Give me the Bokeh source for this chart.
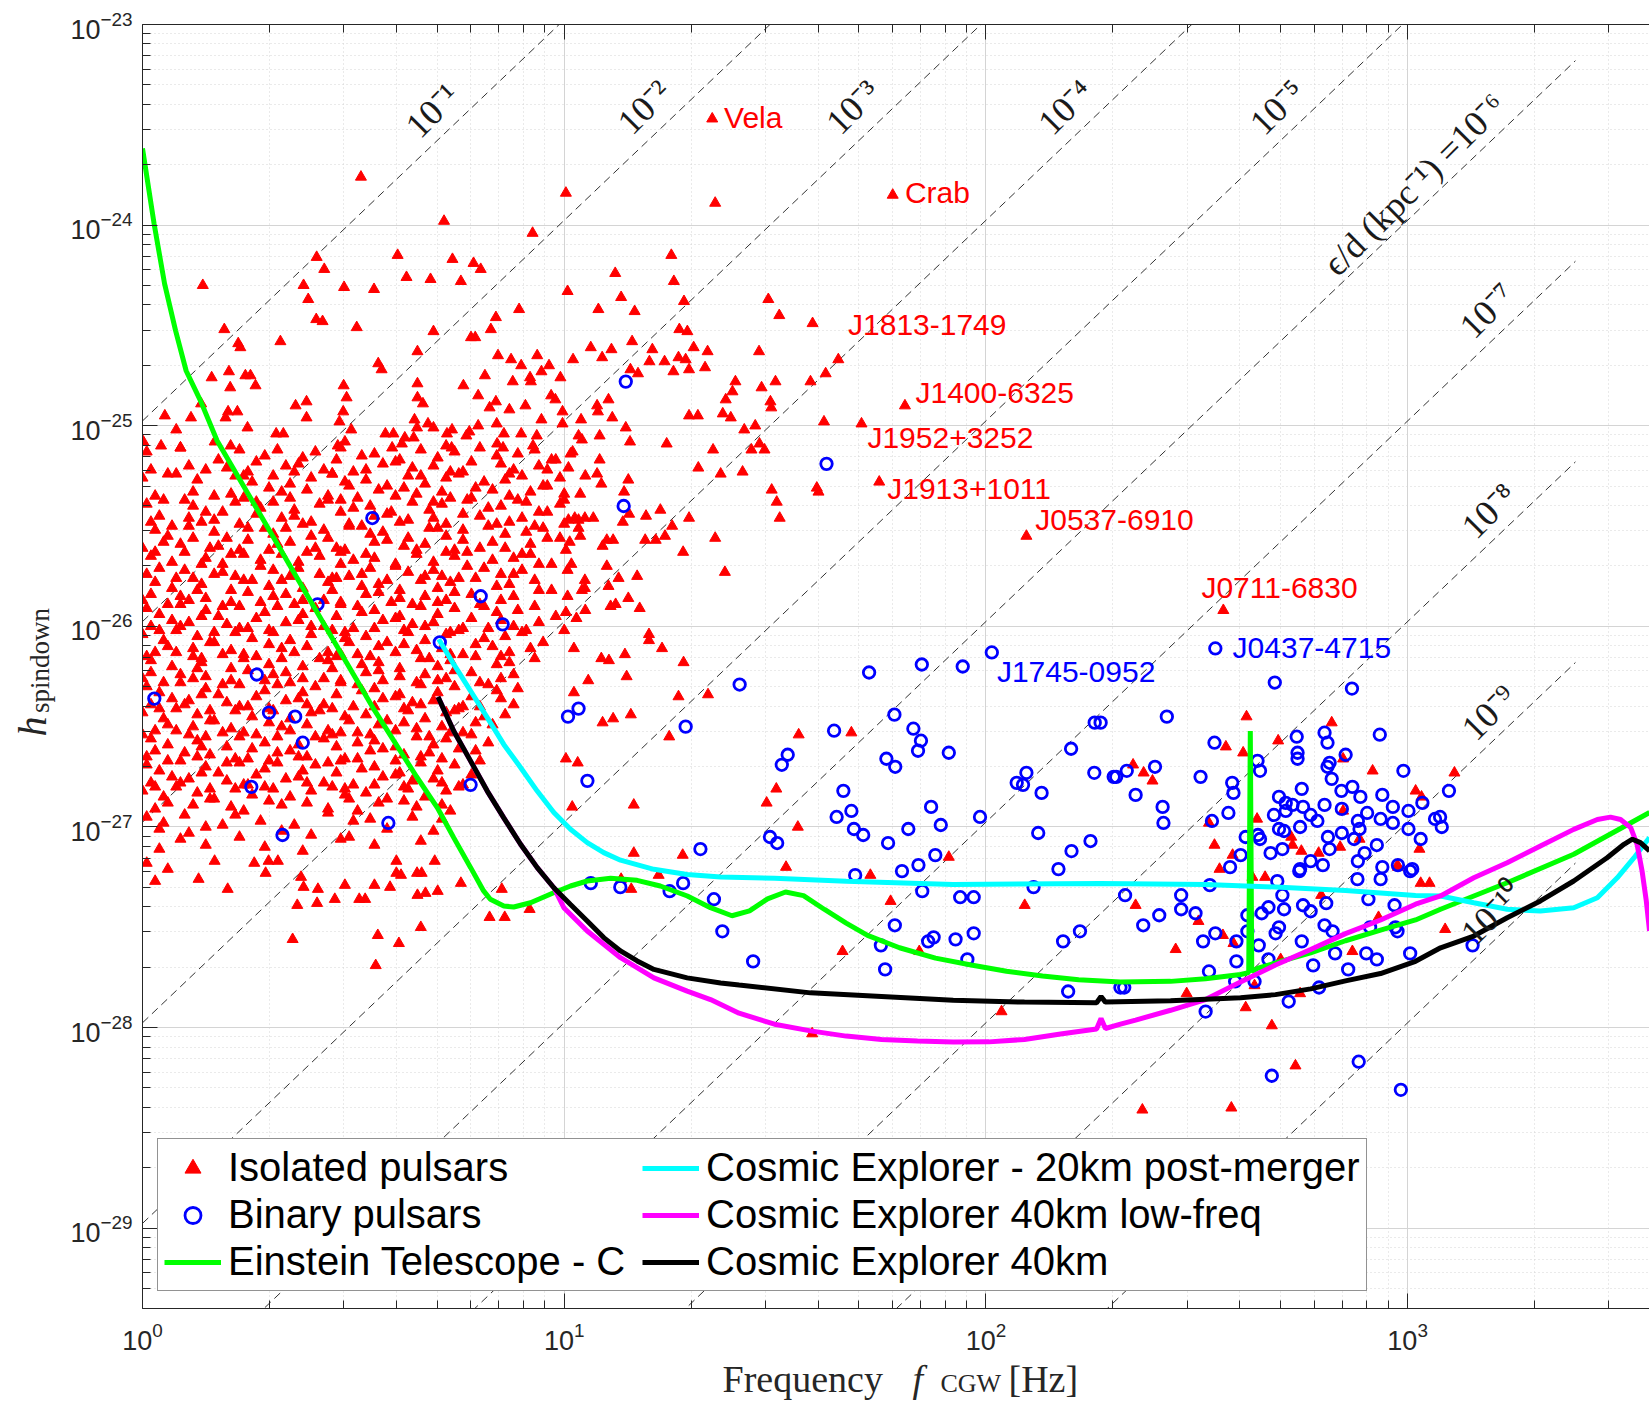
from bokeh.plotting import figure
from bokeh.layouts import row, column
from bokeh.models import (Range1d, LogAxis, FixedTicker, LogTickFormatter,
                          Legend, LegendItem)
from bokeh.core.properties import value
from bokeh.embed import file_html
from bokeh.resources import INLINE

# ---------------- data (log10 f [Hz], log10 h) ----------------
ISO_TOP = [
(0.518,-23.76),(0.715,-23.98),(0.925,-24.04),(0.143,-24.30),(0.413,-24.16),(0.431,-24.22),(0.605,-24.15),(0.626,-24.26),
(0.683,-24.27),(0.735,-24.17),(0.755,-24.28),(0.785,-24.19),(0.802,-24.22),(0.382,-24.30),(0.393,-24.37),(0.478,-24.31),
(0.549,-24.32),(0.893,-24.42),(0.838,-24.46),(0.826,-24.52),(0.412,-24.47),(0.427,-24.48),(0.508,-24.51),(0.690,-24.53),
(0.779,-24.56),(0.789,-24.56),(0.194,-24.52),(0.227,-24.59),(0.232,-24.61),(0.327,-24.58),(0.652,-24.63),(0.559,-24.69),
(0.567,-24.72),(0.843,-24.65),(0.874,-24.67),(0.898,-24.70),(0.936,-24.65),(0.964,-24.70),(0.164,-24.76),(0.205,-24.73),
(0.208,-24.81),(0.244,-24.75),(0.256,-24.75),(0.268,-24.80),(0.477,-24.80),(0.484,-24.86),(0.652,-24.79),(0.652,-24.86),
(0.665,-24.89),(0.761,-24.80),(0.796,-24.85),(0.812,-24.75),(0.878,-24.78),(0.919,-24.76),(0.921,-24.78),(0.946,-24.73),
(0.969,-24.85),(0.979,-24.87),(0.838,-24.88),(0.823,-24.91),(0.870,-24.92),(0.908,-24.90),(0.946,-24.97),(0.139,-24.89),
(0.053,-24.95),(0.115,-24.96),(0.080,-25.02),(0.203,-24.93),(0.225,-24.93),(0.197,-24.96),(0.249,-25.01),(0.363,-24.90),
(0.389,-24.88),(0.389,-24.96),(0.476,-24.93),(0.467,-24.98),(0.495,-25.02),(0.645,-24.97),(0.651,-25.01),(0.677,-24.99),
(0.690,-25.01),(0.576,-25.04),(0.595,-25.04),(0.622,-25.06),(0.643,-25.06),(0.722,-25.04),(0.734,-25.02),(0.768,-25.05),
(0.775,-25.03),(0.796,-25.00),(0.840,-24.99),(0.857,-25.04),(0.898,-25.04),(0.935,-25.05),(0.317,-25.04),(0.334,-25.04),
(0.002,-25.08),(0.044,-25.10),(0.090,-25.11),(0.171,-25.08),(0.209,-25.10),(0.720,-25.10),(0.733,-25.11),(0.841,-25.09),
(0.855,-25.11),(0.926,-25.10),(0.463,-25.10),(0.480,-25.08),(0.592,-25.11),(0.615,-25.09),
(1.004,-23.84),(1.358,-23.89),(1.351,-23.47),(1.779,-23.85),(1.254,-24.15),(1.121,-24.24),(1.008,-24.33),(1.260,-24.28),
(1.135,-24.36),(1.081,-24.42),(1.167,-24.43),(1.284,-24.38),(1.484,-24.37),(1.510,-24.45),(1.589,-24.49),(1.273,-24.52),
(1.292,-24.53),(1.161,-24.58),(1.063,-24.61),(1.112,-24.62),(1.209,-24.62),(1.307,-24.61),(1.340,-24.63),(1.462,-24.63),
(1.021,-24.67),(1.090,-24.66),(1.202,-24.68),(1.238,-24.68),(1.271,-24.66),(1.288,-24.67),(1.157,-24.72),(1.175,-24.74),
(1.259,-24.73),(1.296,-24.72),(1.334,-24.71),(1.650,-24.67),(1.620,-24.74),(1.584,-24.78),(1.501,-24.78),(1.468,-24.81),
(1.406,-24.78),(1.399,-24.83),(1.383,-24.87),(1.489,-24.88),(1.491,-24.91),(1.105,-24.87),(1.078,-24.90),(1.080,-24.93),
(1.114,-24.96),(1.040,-24.97),(0.996,-24.93),(0.996,-24.99),(1.296,-24.95),(1.317,-24.95),(1.376,-24.94),(1.395,-24.96),
(1.453,-25.00),(1.427,-25.02),(1.146,-25.01),(1.616,-24.98),(1.705,-24.99),(1.808,-24.90),(0.991,-24.76),
]

ISO_MID = [
(1.034,-25.05),(1.084,-25.05),(1.042,-25.07),(1.156,-25.08),(1.243,-25.09),(1.015,-25.14),(1.084,-25.17),(1.353,-25.12),
(1.463,-25.09),(1.475,-25.12),(1.444,-25.12),(1.318,-25.21),(1.371,-25.24),(1.423,-25.23),(1.050,-25.25),(1.078,-25.24),
(1.088,-25.29),(1.152,-25.27),(1.142,-25.33),(1.000,-25.37),(1.038,-25.34),(1.492,-25.32),(1.504,-25.38),(1.511,-25.46),
(1.599,-25.31),(1.603,-25.33),(1.747,-25.28),(1.025,-25.46),(1.049,-25.46),(1.069,-25.46),(1.154,-25.44),(1.194,-25.45),
(1.228,-25.42),(1.296,-25.46),(1.000,-25.49),(1.034,-25.47),(1.034,-25.51),(1.038,-25.55),(1.139,-25.48),(1.256,-25.50),
(1.239,-25.55),(1.217,-25.57),(1.192,-25.57),(1.101,-25.57),(1.116,-25.57),(1.091,-25.60),(1.358,-25.56),(1.282,-25.63),
(1.013,-25.58),(1.004,-25.62),(1.017,-25.69),(1.008,-25.72),(1.101,-25.70),(1.129,-25.76),(1.173,-25.75),(1.381,-25.73),
(1.049,-25.77),(1.049,-25.81),(1.105,-25.80),(1.008,-25.85),(1.042,-25.82),(1.152,-25.86),(1.110,-25.90),(1.122,-25.89),
(1.179,-25.91),(1.050,-25.92),(1.004,-25.93),(1.029,-25.96),(1.000,-26.02),(1.201,-26.04),(1.201,-26.07),(1.232,-26.11),
(1.023,-26.11),(1.088,-26.16),(1.106,-26.17),(1.144,-26.14),(1.283,-26.18),(1.148,-26.25),(1.057,-26.27),(1.023,-26.33),
(1.271,-26.35),(1.341,-26.34),(1.116,-26.46),(1.091,-26.48),(1.158,-26.44),(1.249,-26.55),(1.556,-26.54),(1.681,-26.53),
(1.004,-26.66),(1.032,-26.68),(1.503,-26.81),(1.480,-26.88),(1.165,-26.89),(1.019,-26.90),(1.554,-27.00),(1.912,-27.15),
(1.165,-27.13),(1.281,-27.14),(1.526,-27.20),(1.726,-27.24),(1.224,-27.24),(2.096,-25.55),
]

ISO_CORE = [
(0.01,-25.13),(0.09,-25.11),(0.18,-25.17),(0.23,-25.12),(0.29,-25.15),(0.32,-25.12),(0.38,-25.16),(0.41,-25.13),(0.47,-25.11),(0.52,-25.15),(0.55,-25.14),(0.61,-25.17),(0.66,-25.12),(0.70,-25.16),(0.74,-25.13),(0.80,-25.11),(0.84,-25.15),(0.89,-25.14),(0.93,-25.12),(0.98,-25.17),(1.02,-25.13),
(0.02,-25.22),(0.11,-25.20),(0.20,-25.21),(0.25,-25.23),(0.27,-25.18),(0.34,-25.20),(0.37,-25.19),(0.43,-25.22),(0.46,-25.17),(0.50,-25.23),(0.57,-25.19),(0.60,-25.18),(0.64,-25.21),(0.69,-25.20),(0.76,-25.23),(0.78,-25.18),(0.85,-25.19),(0.88,-25.22),(0.94,-25.20),(0.97,-25.17),(1.01,-25.21),
(0.00,-25.26),(0.08,-25.24),(0.13,-25.27),(0.22,-25.25),(0.26,-25.28),(0.31,-25.25),(0.35,-25.29),(0.40,-25.26),(0.45,-25.24),(0.48,-25.28),(0.53,-25.27),(0.58,-25.30),(0.63,-25.25),(0.67,-25.29),(0.72,-25.26),(0.75,-25.24),(0.81,-25.28),(0.86,-25.27),(0.90,-25.25),(0.95,-25.30),(0.99,-25.26),
(0.03,-25.35),(0.12,-25.33),(0.21,-25.34),(0.24,-25.36),(0.30,-25.31),(0.33,-25.33),(0.39,-25.32),(0.44,-25.35),(0.49,-25.30),(0.51,-25.36),(0.56,-25.32),(0.62,-25.31),(0.65,-25.34),(0.71,-25.33),(0.73,-25.36),(0.79,-25.31),(0.83,-25.32),(0.87,-25.35),(0.92,-25.33),(0.96,-25.30),(1.00,-25.34),
(0.01,-25.39),(0.10,-25.37),(0.12,-25.40),(0.19,-25.43),(0.22,-25.38),(0.28,-25.41),(0.31,-25.38),(0.36,-25.42),(0.42,-25.39),(0.44,-25.37),(0.50,-25.41),(0.54,-25.40),(0.59,-25.43),(0.64,-25.38),(0.68,-25.42),(0.71,-25.39),(0.77,-25.37),(0.82,-25.41),(0.85,-25.40),(0.91,-25.38),(0.94,-25.43),(0.99,-25.39),
(0.02,-25.48),(0.04,-25.45),(0.11,-25.46),(0.15,-25.43),(0.17,-25.47),(0.23,-25.49),(0.27,-25.44),(0.33,-25.46),(0.36,-25.45),(0.40,-25.48),(0.47,-25.43),(0.49,-25.49),(0.55,-25.45),(0.58,-25.44),(0.63,-25.47),(0.69,-25.46),(0.72,-25.49),(0.76,-25.44),(0.80,-25.45),(0.87,-25.48),(0.90,-25.46),(0.96,-25.43),(1.01,-25.47),
(0.03,-25.52),(0.06,-25.55),(0.11,-25.50),(0.17,-25.53),(0.20,-25.56),(0.25,-25.51),(0.31,-25.54),(0.34,-25.51),(0.40,-25.55),(0.43,-25.52),(0.49,-25.50),(0.54,-25.54),(0.57,-25.53),(0.63,-25.56),(0.68,-25.51),(0.72,-25.55),(0.76,-25.52),(0.82,-25.50),(0.86,-25.54),(0.91,-25.53),(0.95,-25.51),(0.99,-25.56),
(0.00,-25.61),(0.05,-25.58),(0.09,-25.59),(0.12,-25.56),(0.18,-25.60),(0.23,-25.62),(0.25,-25.57),(0.32,-25.59),(0.35,-25.58),(0.41,-25.61),(0.44,-25.56),(0.48,-25.62),(0.55,-25.58),(0.58,-25.57),(0.62,-25.60),(0.67,-25.59),(0.74,-25.62),(0.76,-25.57),(0.83,-25.58),(0.86,-25.61),(0.92,-25.59),(0.96,-25.56),
(0.02,-25.65),(0.07,-25.68),(0.10,-25.63),(0.15,-25.66),(0.19,-25.69),(0.24,-25.64),(0.28,-25.67),(0.33,-25.64),(0.37,-25.68),(0.42,-25.65),(0.47,-25.63),(0.50,-25.67),(0.55,-25.66),(0.60,-25.69),(0.65,-25.64),(0.69,-25.68),(0.74,-25.65),(0.77,-25.63),(0.83,-25.67),(0.88,-25.66),(0.92,-25.64),(0.97,-25.69),
(0.01,-25.74),(0.04,-25.71),(0.10,-25.72),(0.14,-25.69),(0.19,-25.73),(0.22,-25.75),(0.28,-25.70),(0.31,-25.72),(0.37,-25.71),(0.42,-25.74),(0.47,-25.69),(0.49,-25.75),(0.54,-25.71),(0.60,-25.70),(0.63,-25.73),(0.69,-25.72),(0.71,-25.75),(0.77,-25.70),(0.81,-25.71),(0.85,-25.74),(0.90,-25.72),(0.94,-25.69),
(0.03,-25.78),(0.07,-25.81),(0.12,-25.76),(0.14,-25.79),(0.21,-25.82),(0.24,-25.77),(0.30,-25.80),(0.33,-25.77),(0.38,-25.81),(0.44,-25.78),(0.46,-25.76),(0.52,-25.80),(0.56,-25.79),(0.61,-25.82),(0.66,-25.77),(0.70,-25.81),(0.73,-25.78),(0.79,-25.76),(0.84,-25.80),(0.87,-25.79),(0.93,-25.77),(0.97,-25.82),
(0.00,-25.87),(0.02,-25.84),(0.09,-25.85),(0.13,-25.82),(0.15,-25.86),(0.21,-25.88),(0.25,-25.83),(0.31,-25.85),(0.34,-25.84),(0.38,-25.87),(0.45,-25.82),(0.47,-25.88),(0.53,-25.84),(0.56,-25.83),(0.61,-25.86),(0.67,-25.85),(0.70,-25.88),(0.74,-25.83),(0.78,-25.84),(0.85,-25.87),(0.88,-25.85),(0.94,-25.82),
(0.01,-25.91),(0.04,-25.94),(0.09,-25.89),(0.15,-25.92),(0.18,-25.95),(0.23,-25.90),(0.29,-25.93),(0.32,-25.90),(0.38,-25.94),(0.41,-25.91),(0.47,-25.89),(0.52,-25.93),(0.55,-25.92),(0.61,-25.95),(0.66,-25.90),(0.70,-25.94),(0.74,-25.91),(0.80,-25.89),(0.84,-25.93),(0.89,-25.92),(0.93,-25.90),(0.98,-25.95),
(0.02,-26.00),(0.07,-25.97),(0.11,-25.98),(0.14,-25.95),(0.20,-25.99),(0.25,-26.01),(0.27,-25.96),(0.34,-25.98),(0.37,-25.97),(0.43,-26.00),(0.46,-25.95),(0.50,-26.01),(0.57,-25.97),(0.60,-25.96),(0.64,-25.99),(0.69,-25.98),(0.76,-26.01),(0.78,-25.96),(0.85,-25.97),(0.88,-26.00),(0.94,-25.98),
(0.00,-26.04),(0.05,-26.07),(0.08,-26.02),(0.13,-26.05),(0.17,-26.08),(0.22,-26.03),(0.26,-26.06),(0.31,-26.03),(0.35,-26.07),(0.40,-26.04),(0.45,-26.02),(0.48,-26.06),(0.53,-26.05),(0.58,-26.08),(0.63,-26.03),(0.67,-26.07),(0.72,-26.04),(0.75,-26.02),(0.81,-26.06),(0.86,-26.05),(0.90,-26.03),(0.95,-26.08),
(0.03,-26.13),(0.06,-26.10),(0.12,-26.11),(0.16,-26.08),(0.21,-26.12),(0.24,-26.14),(0.30,-26.09),(0.33,-26.11),(0.39,-26.10),(0.44,-26.13),(0.49,-26.08),(0.51,-26.14),(0.56,-26.10),(0.62,-26.09),(0.65,-26.12),(0.71,-26.11),(0.73,-26.14),(0.79,-26.09),(0.83,-26.10),(0.87,-26.13),(0.92,-26.11),
(0.02,-26.17),(0.07,-26.20),(0.12,-26.15),(0.14,-26.18),(0.21,-26.21),(0.24,-26.16),(0.30,-26.19),(0.33,-26.16),(0.38,-26.20),(0.44,-26.17),(0.46,-26.15),(0.52,-26.19),(0.56,-26.18),(0.61,-26.21),(0.66,-26.16),(0.70,-26.20),(0.73,-26.17),(0.79,-26.15),(0.84,-26.19),(0.87,-26.18),(0.93,-26.16),
(0.00,-26.26),(0.02,-26.23),(0.09,-26.24),(0.13,-26.21),(0.15,-26.25),(0.21,-26.27),(0.25,-26.22),(0.31,-26.24),(0.34,-26.23),(0.38,-26.26),(0.45,-26.21),(0.47,-26.27),(0.53,-26.23),(0.56,-26.22),(0.61,-26.25),(0.67,-26.24),(0.70,-26.27),(0.74,-26.22),(0.78,-26.23),(0.85,-26.26),(0.88,-26.24),
(0.01,-26.30),(0.04,-26.33),(0.09,-26.28),(0.15,-26.31),(0.18,-26.34),(0.23,-26.29),(0.29,-26.32),(0.32,-26.29),(0.38,-26.33),(0.41,-26.30),(0.47,-26.28),(0.52,-26.32),(0.55,-26.31),(0.61,-26.34),(0.66,-26.29),(0.70,-26.33),(0.74,-26.30),(0.80,-26.28),(0.84,-26.32),(0.89,-26.31),
(0.02,-26.39),(0.07,-26.36),(0.11,-26.37),(0.14,-26.34),(0.20,-26.38),(0.25,-26.40),(0.27,-26.35),(0.34,-26.37),(0.37,-26.36),(0.43,-26.39),(0.46,-26.34),(0.50,-26.40),(0.57,-26.36),(0.60,-26.35),(0.64,-26.38),(0.69,-26.37),(0.76,-26.40),(0.78,-26.35),(0.85,-26.36),(0.88,-26.39),
(0.00,-26.43),(0.05,-26.46),(0.08,-26.41),(0.13,-26.44),(0.17,-26.47),(0.22,-26.42),(0.26,-26.45),(0.31,-26.42),(0.35,-26.46),(0.40,-26.43),(0.45,-26.41),(0.48,-26.45),(0.53,-26.44),(0.58,-26.47),(0.63,-26.42),(0.67,-26.46),(0.72,-26.43),(0.75,-26.41),(0.81,-26.45),(0.86,-26.44),
(0.03,-26.52),(0.06,-26.49),(0.12,-26.50),(0.16,-26.47),(0.21,-26.51),(0.24,-26.53),(0.30,-26.48),(0.33,-26.50),(0.39,-26.49),(0.44,-26.52),(0.49,-26.47),(0.51,-26.53),(0.56,-26.49),(0.62,-26.48),(0.65,-26.51),(0.71,-26.50),(0.73,-26.53),(0.79,-26.48),(0.83,-26.49),
(0.02,-26.56),(0.06,-26.59),(0.11,-26.54),(0.13,-26.57),(0.20,-26.60),(0.23,-26.55),(0.29,-26.58),(0.32,-26.55),(0.37,-26.59),(0.43,-26.56),(0.45,-26.54),(0.51,-26.58),(0.55,-26.57),(0.60,-26.60),(0.65,-26.55),(0.69,-26.59),(0.72,-26.56),(0.78,-26.54),(0.82,-26.58),
(0.01,-26.65),(0.03,-26.62),(0.10,-26.63),(0.14,-26.60),(0.16,-26.64),(0.22,-26.66),(0.26,-26.61),(0.32,-26.63),(0.35,-26.62),(0.39,-26.65),(0.46,-26.60),(0.48,-26.66),(0.54,-26.62),(0.57,-26.61),(0.62,-26.64),(0.68,-26.63),(0.71,-26.66),(0.75,-26.61),(0.79,-26.62),
(0.01,-26.69),(0.04,-26.72),(0.09,-26.67),(0.15,-26.70),(0.18,-26.73),(0.23,-26.68),(0.29,-26.71),(0.32,-26.68),(0.38,-26.72),(0.41,-26.69),(0.47,-26.67),(0.52,-26.71),(0.55,-26.70),(0.61,-26.73),(0.66,-26.68),(0.70,-26.72),(0.74,-26.69),(0.80,-26.67),
(0.02,-26.78),(0.07,-26.75),(0.11,-26.76),(0.14,-26.73),(0.20,-26.77),(0.25,-26.79),(0.27,-26.74),(0.34,-26.76),(0.37,-26.75),(0.43,-26.78),(0.46,-26.73),(0.50,-26.79),(0.57,-26.75),(0.60,-26.74),(0.64,-26.77),(0.69,-26.76),(0.76,-26.79),(0.78,-26.74),
(0.00,-26.82),(0.05,-26.85),(0.08,-26.80),(0.13,-26.83),(0.17,-26.86),(0.22,-26.81),(0.26,-26.84),(0.31,-26.81),(0.35,-26.85),(0.40,-26.82),(0.45,-26.80),(0.48,-26.84),(0.53,-26.83),(0.58,-26.86),(0.63,-26.81),(0.67,-26.85),(0.72,-26.82),(0.75,-26.80),
(0.03,-26.91),(0.06,-26.88),(0.12,-26.89),(0.16,-26.86),(0.21,-26.90),(0.24,-26.92),(0.30,-26.87),(0.33,-26.89),(0.39,-26.88),(0.44,-26.91),(0.49,-26.86),(0.51,-26.92),(0.56,-26.88),(0.62,-26.87),(0.65,-26.90),(0.71,-26.89),(0.73,-26.92),
(0.01,-26.95),(0.10,-26.94),(0.19,-26.99),(0.28,-26.97),(0.36,-26.99),(0.44,-26.93),(0.54,-26.96),(0.64,-26.95),(0.71,-26.96),(0.05,-26.98),(0.22,-26.94),(0.50,-26.97),
(0.04,-27.01),(0.15,-27.00),(0.23,-27.05),(0.33,-27.02),(0.40,-27.04),(0.49,-27.05),(0.58,-27.01),(0.69,-27.02),(0.11,-27.03),
(0.04,-27.11),(0.15,-27.09),(0.29,-27.10),(0.38,-27.12),(0.47,-27.06),(0.55,-27.09),(0.66,-27.07),(0.09,-27.06),
(0.01,-27.18),(0.03,-27.27),(0.06,-27.21),
]

ISO_FILL = [
(0.06,-25.24),(0.15,-25.22),(0.24,-25.25),(0.36,-25.23),(0.45,-25.24),(0.53,-25.22),(0.66,-25.25),(0.73,-25.23),(0.87,-25.24),(0.96,-25.22),
(0.05,-25.37),(0.17,-25.35),(0.27,-25.38),(0.35,-25.36),(0.47,-25.37),(0.60,-25.35),(0.69,-25.38),(0.78,-25.36),(0.89,-25.37),
(0.07,-25.50),(0.14,-25.48),(0.29,-25.51),(0.38,-25.49),(0.52,-25.50),(0.61,-25.48),(0.70,-25.51),(0.84,-25.49),(0.93,-25.50),
(0.03,-25.63),(0.16,-25.61),(0.21,-25.64),(0.30,-25.62),(0.39,-25.63),(0.46,-25.61),(0.53,-25.64),(0.65,-25.62),(0.72,-25.63),(0.80,-25.61),(0.90,-25.64),
(0.08,-25.76),(0.17,-25.74),(0.26,-25.77),(0.35,-25.75),(0.45,-25.76),(0.52,-25.74),(0.58,-25.77),(0.67,-25.75),(0.75,-25.76),(0.88,-25.74),
(0.06,-25.89),(0.11,-25.87),(0.19,-25.90),(0.28,-25.88),(0.36,-25.89),(0.43,-25.87),(0.51,-25.90),(0.59,-25.88),(0.64,-25.89),(0.72,-25.87),(0.81,-25.90),
(0.04,-26.02),(0.09,-26.00),(0.17,-26.03),(0.23,-26.01),(0.30,-26.02),(0.40,-26.00),(0.48,-26.03),(0.55,-26.01),(0.62,-26.02),(0.67,-26.00),(0.73,-26.03),(0.82,-26.01),(0.91,-26.02),
(0.01,-26.15),(0.08,-26.13),(0.14,-26.16),(0.19,-26.14),(0.27,-26.15),(0.36,-26.13),(0.42,-26.16),(0.47,-26.14),(0.54,-26.15),(0.60,-26.13),(0.68,-26.16),(0.76,-26.14),(0.85,-26.15),
(0.05,-26.28),(0.12,-26.26),(0.19,-26.29),(0.29,-26.27),(0.35,-26.28),(0.43,-26.26),(0.51,-26.29),(0.57,-26.27),(0.65,-26.28),(0.72,-26.26),(0.82,-26.29),
(0.04,-26.41),(0.10,-26.39),(0.16,-26.42),(0.23,-26.40),(0.30,-26.41),(0.39,-26.39),(0.42,-26.42),(0.55,-26.40),(0.62,-26.41),(0.66,-26.39),(0.74,-26.42),(0.80,-26.40),
(0.00,-26.54),(0.08,-26.52),(0.15,-26.55),(0.19,-26.53),(0.27,-26.54),(0.35,-26.52),(0.41,-26.55),(0.47,-26.53),(0.54,-26.54),(0.60,-26.52),(0.68,-26.55),(0.76,-26.53),
(0.06,-26.67),(0.13,-26.65),(0.20,-26.68),(0.25,-26.66),(0.30,-26.67),(0.37,-26.65),(0.44,-26.68),(0.51,-26.66),(0.60,-26.67),(0.66,-26.65),
(0.03,-26.80),(0.09,-26.78),(0.16,-26.81),(0.24,-26.79),(0.29,-26.80),(0.39,-26.78),(0.48,-26.81),(0.55,-26.79),(0.62,-26.80),(0.71,-26.78),
]

ISO_LOW = [
(0.133,-27.26),(0.202,-27.31),(0.292,-27.23),(0.376,-27.25),(0.382,-27.30),(0.416,-27.31),(0.480,-27.29),(0.550,-27.29),
(0.587,-27.30),(0.602,-27.23),(0.613,-27.24),(0.651,-27.23),(0.662,-27.23),(0.652,-27.34),(0.671,-27.33),(0.700,-27.32),
(0.755,-27.28),(0.367,-27.39),(0.414,-27.38),(0.456,-27.36),(0.514,-27.36),(0.528,-27.36),(0.660,-27.50),(0.558,-27.54),
(0.608,-27.58),(0.356,-27.56),(0.553,-27.69),(0.823,-27.45),(0.859,-27.45),(0.852,-27.31),(0.918,-27.41),(0.171,-27.17),
(0.265,-27.18),(0.299,-27.17),(0.321,-27.17),(0.602,-27.17),(0.693,-27.17),
(1.159,-27.31),(1.774,-27.37),(2.092,-27.39),(1.660,-27.62),(1.842,-27.62),(1.588,-28.03),(2.037,-27.92),(1.135,-27.26),
(2.554,-27.21),(2.662,-27.25),(2.632,-27.25),(2.355,-27.39),(2.504,-27.47),(2.562,-27.54),(2.587,-27.58),(2.450,-27.61),
(2.699,-27.66),(2.637,-27.79),(2.476,-27.83),(2.745,-27.83),(2.616,-27.90),(2.678,-27.99),(2.734,-28.19),(2.371,-28.41),
(2.582,-28.40),(2.869,-27.62),(2.931,-27.45),(3.089,-27.51),(3.031,-27.28),(3.052,-27.28),(2.795,-27.34),(2.977,-27.20),
(2.563,-25.92),(2.618,-26.45),(2.820,-26.48),(2.693,-26.57),(2.569,-26.60),(2.610,-26.63),(2.349,-26.69),(2.374,-26.73),
(2.395,-26.77),(2.847,-26.66),(2.917,-26.72),(3.111,-26.73),(3.019,-26.82),(3.033,-26.85),(2.643,-26.96),(2.847,-26.92),
(2.529,-26.98),(2.724,-27.05),(2.727,-27.09),(2.748,-27.12),(2.789,-27.13),(2.542,-27.09),(2.585,-27.14),(2.886,-27.06),
(3.028,-27.11),(2.976,-27.19),(2.840,-27.10),
]

BINARY = [
(0.028,-26.36),(0.545,-25.46),(0.415,-25.89),(0.271,-26.24),(0.300,-26.43),(0.362,-26.45),(0.380,-26.58),(0.258,-26.80),
(0.332,-27.04),(0.583,-26.98),(0.802,-25.85),(0.854,-25.99),(0.705,-26.08),(0.778,-26.79),(1.009,-26.45),(1.034,-26.41),
(1.055,-26.77),(1.063,-27.28),(1.146,-24.78),
(1.622,-25.19),(1.141,-25.40),(2.014,-26.13),(1.945,-26.20),(1.848,-26.19),(1.723,-26.23),(1.416,-26.29),(1.288,-26.50),
(1.783,-26.44),(1.640,-26.52),(1.828,-26.51),(1.846,-26.57),(1.839,-26.62),(1.912,-26.63),(1.764,-26.66),(1.785,-26.70),
(1.530,-26.64),(1.516,-26.69),(2.258,-26.48),(2.202,-26.61),(2.257,-26.73),(2.303,-26.75),(2.096,-26.73),(2.073,-26.78),
(2.088,-26.79),(2.132,-26.83),(1.662,-26.82),(1.870,-26.90),(1.893,-26.99),(1.986,-26.95),(1.681,-26.92),(1.646,-26.95),
(1.687,-27.01),(1.709,-27.04),(1.816,-27.01),(1.768,-27.08),(1.488,-27.05),(1.505,-27.08),(2.124,-27.03),(2.248,-27.07),
(2.203,-27.12),(2.172,-27.21),(1.880,-27.14),(1.840,-27.19),(1.801,-27.22),(1.690,-27.24),(1.323,-27.11),
(1.133,-27.30),(1.250,-27.32),(1.282,-27.28),(1.355,-27.36),(1.375,-27.52),(1.448,-27.67),(1.849,-27.32),(1.784,-27.49),
(1.751,-27.59),(1.761,-27.71),(1.863,-27.57),(1.876,-27.55),(1.928,-27.56),(1.971,-27.53),(1.956,-27.66),(1.939,-27.35),
(1.971,-27.35),(2.113,-27.30),(2.183,-27.57),(2.223,-27.52),(2.195,-27.82),(2.319,-27.80),
(2.330,-27.34),(2.373,-27.49),(2.411,-27.44),(2.463,-27.34),(2.463,-27.41),(2.497,-27.43),(2.531,-27.29),(2.515,-27.57),
(2.544,-27.53),(2.529,-27.72),(2.328,-27.80),(2.521,-27.92),(2.594,-27.57),(2.594,-27.67),(2.591,-27.77),(2.620,-27.44),
(2.620,-27.52),(2.647,-27.59),(2.654,-27.43),(2.670,-27.40),(2.670,-27.66),(2.637,-27.77),(2.687,-27.53),(2.695,-27.50),
(2.691,-27.27),(2.703,-27.34),(2.707,-27.41),(2.749,-27.57),(2.752,-27.39),(2.770,-27.42),(2.776,-27.69),(2.718,-27.87),
(2.790,-27.80),(2.743,-27.22),(2.803,-27.49),(2.807,-27.38),(2.822,-27.52),(2.828,-27.63),(2.859,-27.71),(2.902,-27.63),
(2.927,-27.66),(2.907,-27.36),(2.911,-27.50),(2.881,-27.26),(2.936,-27.26),(2.969,-27.39),(2.971,-27.50),(2.976,-27.52),
(3.006,-27.63),(3.006,-27.22),(3.154,-27.59),(2.678,-28.24),(2.884,-28.17),(2.984,-28.31),
(2.544,-26.11),(2.685,-26.28),(2.868,-26.31),(2.429,-26.45),(2.272,-26.48),(2.542,-26.58),(2.737,-26.55),(2.803,-26.53),
(2.810,-26.58),(2.934,-26.54),(2.853,-26.64),(2.739,-26.63),(2.739,-26.66),(2.644,-26.67),(2.650,-26.72),(2.815,-26.68),
(2.810,-26.70),(2.820,-26.76),(2.990,-26.72),(2.509,-26.75),(2.401,-26.70),(2.334,-26.72),(2.309,-26.75),(2.584,-26.78),
(2.587,-26.83),(2.355,-26.84),(2.419,-26.90),(2.421,-26.98),(2.575,-26.93),(2.536,-26.97),(2.749,-26.81),(2.843,-26.82),
(2.869,-26.80),(2.888,-26.85),(2.940,-26.84),(3.098,-26.82),(2.727,-26.89),(2.752,-26.90),(2.770,-26.94),(2.803,-26.89),
(2.683,-26.94),(2.711,-26.92),(2.745,-27.00),(2.695,-27.01),(2.786,-26.97),(2.844,-26.91),(2.882,-26.97),(2.904,-26.93),
(2.936,-26.96),(2.965,-26.90),(3.002,-26.92),(3.035,-26.88),(3.065,-26.96),(3.077,-26.95),(3.081,-27.00),(2.965,-26.98),
(3.002,-27.01),(3.031,-27.06),(2.886,-27.01),(2.873,-27.06),(2.898,-27.13),(2.927,-27.09),(2.844,-27.03),(2.811,-27.05),
(2.815,-27.11),(2.770,-27.17),(2.799,-27.19),(2.745,-27.21),(2.645,-27.04),(2.650,-27.06),(2.675,-27.13),(2.703,-27.11),
(2.616,-27.05),(2.604,-27.14),(2.579,-27.20),(2.940,-27.20),(2.977,-27.19),(3.011,-27.21),(2.882,-27.17),(2.695,-26.85),
(2.711,-26.88),(2.707,-27.02),
]

# sensitivity curves (f in Hz, h)
ET_F = [1.0,1.065,1.128,1.198,1.269,1.373,1.503,1.778,2.239,2.818,3.548,4.467,5.0,5.47,6.0,6.44,6.68,7.19,7.59,8.32,
        9.44,10.35,11.34,12.88,14.89,16.9,19.59,22.23,24.99,27.51,30.35,33.48,36.94,41.43,46.63,52.4,62.39,75.93,92.25,111.9,
        136.2,165.9,208.5,274.1,331.7,401.6,420.0,423.6,427.0,441.9,505.0,588.8,712.3,862.6,1044,1197,1722,2477,3747]
ET_H = [2.41e-24,1.02e-24,5.11e-25,2.98e-25,1.88e-25,1.33e-25,8.41e-26,4.6e-26,2.0e-26,8.73e-27,3.82e-27,1.78e-27,1.25e-27,
        8.85e-28,6.27e-28,4.80e-28,4.36e-28,4.04e-28,3.99e-28,4.19e-28,4.70e-28,5.08e-28,5.38e-28,5.55e-28,5.42e-28,5.08e-28,
        4.53e-28,3.96e-28,3.61e-28,3.82e-28,4.38e-28,4.74e-28,4.55e-28,3.88e-28,3.32e-28,2.88e-28,2.50e-28,2.22e-28,2.05e-28,
        1.91e-28,1.81e-28,1.73e-28,1.69e-28,1.70e-28,1.75e-28,1.84e-28,1.88e-28,3.01e-27,1.90e-28,1.98e-28,2.15e-28,2.36e-28,
        2.71e-28,3.06e-28,3.44e-28,3.89e-28,5.27e-28,7.31e-28,1.18e-27]
CE20_F = [5.04,5.47,6.0,6.57,7.19,7.88,8.63,9.45,10.35,11.34,12.41,13.6,16.32,19.57,23.49,31.53,46.63,83.65,187,331.7,
          486,712.3,1044,1197,1435,1722,2065,2477,2818,3141,3444,3639,3747]
CE20_H = [8.63e-27,6.48e-27,4.76e-27,3.51e-27,2.58e-27,1.98e-27,1.51e-27,1.18e-27,9.74e-28,8.36e-28,7.45e-28,6.83e-28,
          6.15e-28,5.80e-28,5.63e-28,5.55e-28,5.36e-28,5.17e-28,5.23e-28,5.17e-28,5.02e-28,4.83e-28,4.55e-28,4.53e-28,
          4.19e-28,3.89e-28,3.81e-28,3.96e-28,4.44e-28,5.58e-28,7.03e-28,8.20e-28,8.85e-28]
CE40LF_F = [5.02,5.47,6.0,6.57,7.19,7.88,8.63,9.45,9.98,11.34,13.6,16.32,19.57,22.23,25.98,31.53,38.38,46.63,56.56,68.84,
            83.65,101.7,123.4,150.3,183,187.5,192,208.5,226.4,274.1,331.7,401.6,486,588.8,712.3,862.6,1044,1197,1435,1722,
            2065,2477,2818,3027,3199,3381,3500,3597,3681,3747]
CE40LF_H = [4.45e-27,3.01e-27,2.13e-27,1.51e-27,1.11e-27,8.2e-28,6.27e-28,4.98e-28,3.96e-28,3.03e-28,2.23e-28,1.77e-28,
            1.52e-28,1.38e-28,1.18e-28,1.04e-28,9.63e-29,9.07e-29,8.73e-29,8.57e-29,8.47e-29,8.49e-29,8.73e-29,9.29e-29,
            9.84e-29,1.11e-28,9.9e-29,1.04e-28,1.09e-28,1.22e-28,1.38e-28,1.69e-28,2.05e-28,2.45e-28,2.94e-28,3.44e-28,
            4.12e-28,4.53e-28,5.58e-28,6.64e-28,8.04e-28,9.73e-28,1.09e-27,1.12e-27,1.09e-27,9.93e-28,8.20e-28,6.04e-28,
            4.28e-28,3.03e-28]
CE40_F = [5.02,5.47,6.0,6.57,7.19,7.88,8.63,9.45,10.35,11.34,12.41,13.6,14.9,16.32,19.57,23.49,25.98,38.38,56.56,83.65,
          123.4,183,187.5,192,274.1,401.6,486,588.8,712.3,862.6,1044,1197,1435,1722,2065,2477,2972,3258,3412,3565,3747]
CE40_H = [4.45e-27,3.01e-27,2.13e-27,1.51e-27,1.11e-27,8.2e-28,6.27e-28,4.98e-28,4.11e-28,3.40e-28,2.81e-28,2.41e-28,
          2.15e-28,1.95e-28,1.77e-28,1.67e-28,1.63e-28,1.49e-28,1.43e-28,1.37e-28,1.34e-28,1.33e-28,1.43e-28,1.34e-28,
          1.36e-28,1.41e-28,1.46e-28,1.56e-28,1.71e-28,1.86e-28,2.14e-28,2.50e-28,2.86e-28,3.53e-28,4.28e-28,5.38e-28,
          7.03e-28,8.20e-28,8.69e-28,8.36e-28,7.59e-28]

# named pulsars (label anchor: log10 f, log10 h)
NAMES = ["Vela", "Crab", "J1813-1749", "J1400-6325", "J1952+3252", "J1913+1011", "J0537-6910",
         "J0711-6830", "J0437-4715", "J1745-0952"]
NAME_LOGF = [1.379, 1.808, 1.673, 1.833, 1.719, 1.766, 2.117, 2.511, 2.585, 2.026]
NAME_LOGH = [-23.464, -23.836, -24.493, -24.834, -25.058, -25.311, -25.468, -25.805, -26.104, -26.224]
NAME_COLORS = ["#ff0000"] * 8 + ["#0000ff"] * 2

# constant-ellipticity/distance lines h = K * (eps/d) * f^2, labels
K_SPIN = 1.0569e-24
EPS_EXP = [1, 2, 3, 4, 5, 6, 7, 8, 9, 10]
EPS_F_SPAN = [1.0, 2500.0]
EPS_LABELS = ["10⁻¹", "10⁻²", "10⁻³", "10⁻⁴", "10⁻⁵", "ϵ/d (kpc⁻¹) =10⁻⁶", "10⁻⁷", "10⁻⁸", "10⁻⁹", "10⁻¹⁰"]
EPS_LABEL_F = [4.875, 15.5, 48.4, 154.5, 491, 1038, 1545, 1560, 1560, 1589]
EPS_LABEL_H = [3.72e-24, 3.87e-24, 3.87e-24, 3.87e-24, 3.87e-24, 1.59e-24, 3.75e-25, 3.77e-26, 3.72e-27, 3.72e-28]

X_MAJOR = [1, 10, 100, 1000]
Y_MAJOR = [1e-29, 1e-28, 1e-27, 1e-26, 1e-25, 1e-24, 1e-23]

# axis titles: pieces (text, x px, baseline px, size, style)
XTITLE = [("Frequency", 722, 22, "38px", "normal"), ("f", 912, 22, "38px", "italic"),
          ("CGW", 940, 27, "26px", "normal"), ("[Hz]", 1008, 22, "38px", "normal")]
YTITLE = [("h", 32, 752, "40px", "italic"), ("spindown", 39, 727, "27px", "normal")]


def unzip(pairs):
    return [10 ** a for a, _ in pairs], [10 ** b for _, b in pairs]


iso_f, iso_h = unzip(ISO_TOP + ISO_MID + ISO_CORE + ISO_FILL + ISO_LOW)
bin_f, bin_h = unzip(BINARY)

AX = "#262626"
SERIF = "Liberation Serif"
MAIN_W, MAIN_H, YLAB_W, XLAB_H = 1589, 1356, 60, 47

# ---------------- main figure ----------------
p = figure(width=MAIN_W, height=MAIN_H, x_axis_type="log", y_axis_type="log",
           x_range=Range1d(1.0, 3746.0), y_range=Range1d(3.98e-30, 1e-23),
           output_backend="svg", toolbar_location=None,
           min_border_left=82, min_border_right=0, min_border_top=24, min_border_bottom=48,
           background_fill_color="white", border_fill_color="white")
p.outline_line_color = None
bottom_axis = p.below[0]
left_axis = p.left[0]

x_minor = [m * 10 ** e for e in range(0, 4) for m in range(2, 10) if m * 10 ** e < 3746]
y_minor = [m * 10.0 ** e for e in range(-30, -23) for m in range(2, 10)]
xticker = FixedTicker(ticks=X_MAJOR, minor_ticks=x_minor)
yticker = FixedTicker(ticks=Y_MAJOR, minor_ticks=y_minor)

top_axis = LogAxis(ticker=xticker, formatter=LogTickFormatter(), major_label_text_color=None,
                   major_label_text_font_size="1px", major_label_standoff=0)
p.add_layout(top_axis, "above")

bottom_axis.ticker = xticker
left_axis.ticker = yticker
for ax in (bottom_axis, left_axis, top_axis):
    ax.axis_line_color = AX
    ax.axis_line_width = 1
    ax.major_tick_line_color = AX
    ax.minor_tick_line_color = AX
    ax.major_tick_in = 15
    ax.major_tick_out = 0
    ax.minor_tick_in = 8
    ax.minor_tick_out = 0
for ax in (bottom_axis, left_axis):
    ax.formatter = LogTickFormatter()
    ax.major_label_text_font = "Liberation Sans"
    ax.major_label_text_font_size = "27px"
    ax.major_label_text_color = AX
left_axis.major_label_standoff = 10
bottom_axis.major_label_standoff = 13

for g, t in ((p.xgrid[0], xticker), (p.ygrid[0], yticker)):
    g.ticker = t
    g.grid_line_color = "#d4d4d4"
    g.grid_line_width = 1
    g.minor_grid_line_color = "#d4d4d4"
    g.minor_grid_line_dash = "1 3"

for k in EPS_EXP:
    p.line(EPS_F_SPAN, [K_SPIN * 10.0 ** (-k) * f ** 2 for f in EPS_F_SPAN],
           line_color="#333333", line_width=1, line_dash="8 5")

r_iso = p.scatter(iso_f, iso_h, marker="triangle", size=11, fill_color="#ff0000", line_color="#ff0000")
r_bin = p.scatter(bin_f, bin_h, marker="circle", size=11.5, fill_color=None, line_color="#0000ff", line_width=2.8)
r_et = p.line(ET_F, ET_H, line_color="#00ff00", line_width=5)
r_c20 = p.line(CE20_F, CE20_H, line_color="#00ffff", line_width=5)
r_c40lf = p.line(CE40LF_F, CE40LF_H, line_color="#ff00ff", line_width=5)
r_c40 = p.line(CE40_F, CE40_H, line_color="#000000", line_width=5)

p.text(x=[10 ** v for v in NAME_LOGF], y=[10 ** v for v in NAME_LOGH], text=NAMES,
       text_color=NAME_COLORS, text_font=value("Liberation Sans"), text_font_size="30px",
       text_align="left", text_baseline="middle")

p.text(x=EPS_LABEL_F, y=EPS_LABEL_H, text=EPS_LABELS, angle=45, angle_units="deg",
       text_color="#1a1a1a", text_font=value(SERIF), text_font_size="36px",
       text_align="center", text_baseline="middle")

legend = Legend(items=[
    LegendItem(label="Isolated pulsars", renderers=[r_iso]),
    LegendItem(label="Binary pulsars", renderers=[r_bin]),
    LegendItem(label="Einstein Telescope - C", renderers=[r_et]),
    LegendItem(label="Cosmic Explorer - 20km post-merger", renderers=[r_c20]),
    LegendItem(label="Cosmic Explorer 40km low-freq", renderers=[r_c40lf]),
    LegendItem(label="Cosmic Explorer 40km", renderers=[r_c40]),
], location=(15, 17), ncols=2, orientation="vertical",
    label_text_font="Liberation Sans", label_text_font_size="40px", label_text_color="#000000",
    glyph_width=57, glyph_height=40, label_width=412, label_height=44, label_standoff=7,
    spacing=2, padding=6, margin=0,
    border_line_color=AX, border_line_width=1, background_fill_color="white", background_fill_alpha=1.0)
p.add_layout(legend)


def text_panel(width, height, pieces, angle):
    f = figure(width=width, height=height, x_range=Range1d(0, width), y_range=Range1d(height, 0),
               title=None, output_backend="svg", toolbar_location=None,
               x_axis_location=None, y_axis_location=None,
               min_border=0, min_border_left=0, min_border_right=0, min_border_top=0, min_border_bottom=0,
               background_fill_color="white", border_fill_color="white")
    f.outline_line_color = None
    f.xgrid.visible = False
    f.ygrid.visible = False
    for txt, x, y, size, style in pieces:
        f.text(x=[x], y=[y], text=[txt], angle=angle, angle_units="deg", text_color=AX,
               text_font=value(SERIF), text_font_size=size, text_font_style=style,
               text_align="left", text_baseline="alphabetic")
    return f


ylab = text_panel(YLAB_W, MAIN_H, YTITLE, 90)
xlab = text_panel(YLAB_W + MAIN_W, XLAB_H, XTITLE, 0)

layout = column(row(ylab, p, spacing=0), xlab, spacing=0)
open("out.html", "w").write(file_html(layout, INLINE))
